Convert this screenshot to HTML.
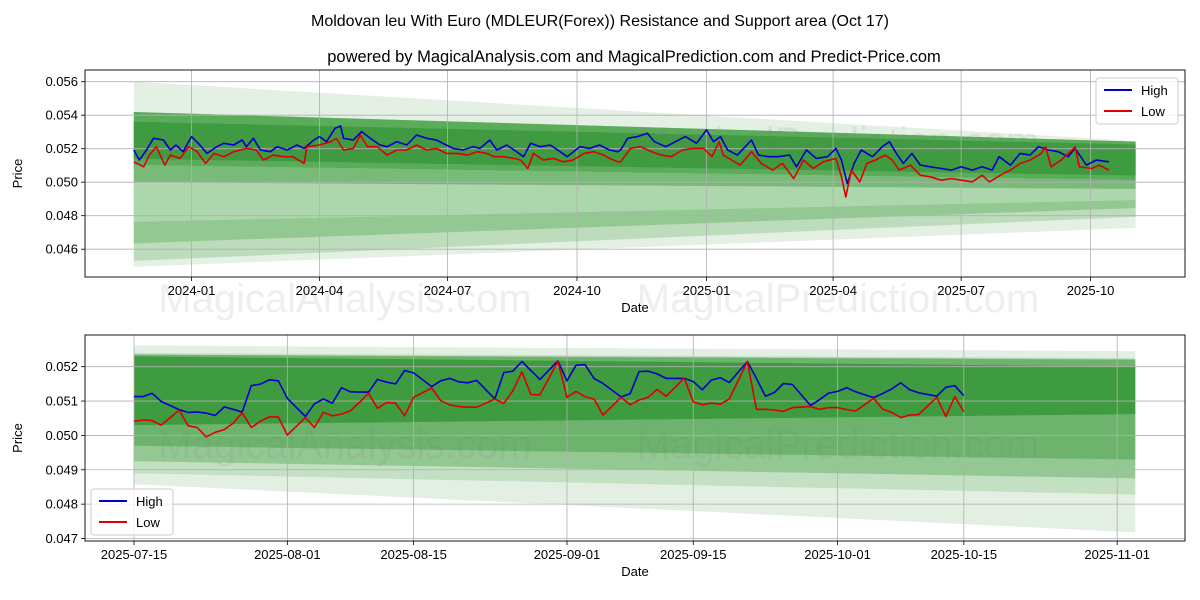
<!DOCTYPE html>
<html><head><meta charset="utf-8"><style>
body{margin:0;background:#fff;}
svg{display:block;font-family:"Liberation Sans",sans-serif;}
</style></head><body>
<svg id="c" width="1200" height="600" viewBox="0 0 1200 600"></svg>
<script>
// ---------- TOP CHART DATA (days since 2024-01-01) ----------
const topHighDays=[-41,-37,-32,-27,-20,-15,-11,-6,0,6,11,18,23,30,36,39,44,49,56,61,68,75,80,87,91,96,102,106,108,115,121,127,134,139,146,153,160,167,174,181,186,193,200,205,212,217,224,231,236,241,248,255,262,267,276,283,290,297,303,305,310,317,324,329,337,344,351,359,366,371,376,381,388,398,403,410,417,425,430,437,444,452,458,462,466,471,476,484,491,496,501,506,512,518,525,533,540,547,555,562,569,574,582,589,596,602,609,616,623,628,636,643,652];
const topHighVals=[0.05192,0.05132,0.05192,0.05262,0.05252,0.05192,0.05222,0.05182,0.05272,0.05222,0.05172,0.05212,0.05232,0.05222,0.05252,0.05212,0.05262,0.05192,0.05182,0.05212,0.05192,0.05222,0.05202,0.05252,0.05272,0.05242,0.05322,0.05336,0.05262,0.05252,0.05302,0.05262,0.05222,0.05212,0.05242,0.05222,0.05282,0.05262,0.05252,0.05222,0.05202,0.05192,0.05212,0.05202,0.05252,0.05192,0.05222,0.05182,0.05152,0.05232,0.05212,0.05222,0.05182,0.05152,0.05212,0.05202,0.05222,0.05192,0.05182,0.05192,0.05262,0.05272,0.05292,0.05242,0.05212,0.05242,0.05272,0.05232,0.05312,0.05242,0.05272,0.05192,0.05162,0.05252,0.05162,0.05152,0.05152,0.05162,0.05092,0.05192,0.05142,0.05152,0.05202,0.05132,0.04992,0.05112,0.05192,0.05152,0.05212,0.05242,0.05172,0.05112,0.05172,0.05102,0.05092,0.05082,0.05072,0.05092,0.05072,0.05092,0.05072,0.05152,0.05102,0.05172,0.05162,0.05212,0.05192,0.05182,0.05152,0.05202,0.05102,0.05132,0.05122];
const topLowDays=[-41,-34,-30,-25,-19,-15,-8,-2,4,10,16,23,30,35,39,46,51,58,65,72,80,82,91,99,103,108,115,120,125,132,139,146,153,160,167,174,181,189,196,203,210,215,222,229,234,239,243,250,257,264,271,279,286,293,297,303,305,312,319,327,334,341,349,356,364,370,375,378,386,390,398,405,413,420,428,435,442,449,458,462,465,469,475,480,486,493,498,503,511,518,525,533,540,547,555,562,567,577,582,589,596,604,607,611,618,626,628,631,640,645,652];
const topLowVals=[0.05122,0.05092,0.05162,0.05212,0.05102,0.05162,0.05142,0.05212,0.05182,0.05112,0.05172,0.05152,0.05182,0.05192,0.05202,0.05192,0.05132,0.05162,0.05152,0.05152,0.05112,0.05212,0.05222,0.05242,0.05262,0.05192,0.05202,0.05282,0.05212,0.05212,0.05162,0.05192,0.05192,0.05222,0.05192,0.05202,0.05172,0.05172,0.05162,0.05182,0.05172,0.05152,0.05152,0.05142,0.05132,0.05082,0.05172,0.05132,0.05142,0.05122,0.05132,0.05172,0.05182,0.05162,0.05142,0.05122,0.05122,0.05202,0.05212,0.05182,0.05162,0.05152,0.05192,0.05202,0.05202,0.05152,0.05242,0.05162,0.05122,0.05102,0.05182,0.05112,0.05072,0.05112,0.05022,0.05132,0.05082,0.05122,0.05142,0.05032,0.04912,0.05072,0.05002,0.05112,0.05132,0.05162,0.05132,0.05072,0.05102,0.05042,0.05032,0.05012,0.05022,0.05012,0.05002,0.05042,0.05002,0.05052,0.05072,0.05112,0.05132,0.05172,0.05212,0.05092,0.05132,0.05192,0.05212,0.05092,0.05082,0.05102,0.05072];
const topTickDays=[0,91,182,274,366,456,547,639];
const topTickLabels=["2024-01","2024-04","2024-07","2024-10","2025-01","2025-04","2025-07","2025-10"];
const topYTicks=[0.046,0.048,0.050,0.052,0.054,0.056];
// bands: startTop,endTop,startBottom,endBottom
const topBandA=[0.0560,0.05246,0.04495,0.04727];
const topBandB=[0.05419,0.05242,0.04530,0.04794];
const topBandC=[0.04764,0.04894,0.04635,0.04846];
const topBandD=[0.05103,0.05013,0.04764,0.04894];
const topBandE=[0.05103,0.05013,0.05000,0.04960];
const topBandF=[0.05419,0.05242,0.05103,0.05013];
const topBandG=[0.05361,0.05225,0.05140,0.05040];
const topBandDays=[-41,671];

// ---------- BOTTOM CHART DATA (days since 2025-07-15) ----------
const botDays=[0,1,2,3,4,5,6,7,8,9,10,11,12,13,14,15,16,17,19,20,21,22,23,24,25,26,27,28,29,30,31,33,34,35,36,37,38,40,41,42,43,44,45,47,48,49,50,51,52,54,55,56,57,58,59,60,61,62,63,64,65,66,68,69,70,71,72,73,75,76,77,78,79,80,82,83,84,85,86,87,89,90,91,92];
const botHigh=[0.05113,0.05113,0.05123,0.05099,0.05087,0.05075,0.05067,0.05068,0.05065,0.05058,0.05083,0.05076,0.05068,0.05145,0.05149,0.05162,0.05159,0.05108,0.05055,0.05092,0.05106,0.05094,0.05139,0.05127,0.05126,0.05126,0.05163,0.05155,0.05150,0.05189,0.05182,0.05142,0.05159,0.05166,0.05156,0.05153,0.05160,0.05106,0.05183,0.05187,0.05215,0.05189,0.05163,0.05217,0.05159,0.05204,0.05206,0.05166,0.05151,0.05112,0.05121,0.05186,0.05187,0.05179,0.05166,0.05166,0.05166,0.05157,0.05133,0.05161,0.05168,0.05154,0.05215,0.05166,0.05114,0.05125,0.05151,0.05148,0.05087,0.05104,0.05123,0.05128,0.05139,0.05127,0.05110,0.05122,0.05135,0.05153,0.05133,0.05124,0.05114,0.05140,0.05145,0.05116];
const botLow=[0.05041,0.05045,0.05043,0.05030,0.05051,0.05074,0.05028,0.05023,0.04996,0.05009,0.05017,0.05036,0.05066,0.05023,0.05041,0.05054,0.05054,0.05001,0.05052,0.05023,0.05067,0.05057,0.05062,0.05072,0.05096,0.05123,0.05079,0.05096,0.05094,0.05057,0.05111,0.05138,0.05101,0.05089,0.05084,0.05082,0.05082,0.05106,0.05093,0.05130,0.05185,0.05119,0.05118,0.05215,0.05111,0.05128,0.05113,0.05106,0.05059,0.05111,0.05089,0.05103,0.05111,0.05134,0.05114,0.05140,0.05167,0.05098,0.05089,0.05094,0.05091,0.05106,0.05215,0.05076,0.05076,0.05074,0.05070,0.05081,0.05084,0.05076,0.05081,0.05081,0.05075,0.05071,0.05108,0.05076,0.05067,0.05052,0.05059,0.05061,0.05111,0.05055,0.05113,0.05069];
const botTickDays=[0,17,31,48,62,78,92,109];
const botTickLabels=["2025-07-15","2025-08-01","2025-08-15","2025-09-01","2025-09-15","2025-10-01","2025-10-15","2025-11-01"];
const botYTicks=[0.047,0.048,0.049,0.050,0.051,0.052];
const botBandA=[0.05262,0.05245,0.04858,0.04718];
const botBandB=[0.05240,0.05225,0.04890,0.04828];
const botBandC=[0.05235,0.05222,0.04925,0.04875];
const botBandD=[0.05235,0.05220,0.04970,0.04930];
const botBandE=[0.05230,0.05200,0.05030,0.05062];
const botBandDays=[0,111];

const NS="http://www.w3.org/2000/svg";
const svg=document.getElementById('c');
function mk(tag,attrs,parent){const e=document.createElementNS(NS,tag);for(const k in attrs)e.setAttribute(k,attrs[k]);(parent||svg).appendChild(e);return e;}

function drawPanel(cfg){
  const g=mk('g',{});
  
  
  const X=cfg.x, Y=cfg.y;
  // bands
  cfg.bands.forEach((b,i)=>{
    const d0=cfg.bandDays[0], d1=cfg.bandDays[1];
    const p=mk('polygon',{points:`${X(d0)},${Y(b[0])} ${X(d1)},${Y(b[1])} ${X(d1)},${Y(b[3])} ${X(d0)},${Y(b[2])}`,fill:cfg.bandColors[i]},g);
    
    
  });
  // grid
  cfg.yTicks.forEach(v=>{
    const l=mk('line',{x1:cfg.l,x2:cfg.r,y1:Y(v),y2:Y(v),stroke:'#b0b0b0','stroke-width':0.8},g);
    
    
    mk('line',{x1:cfg.l-4,x2:cfg.l,y1:Y(v),y2:Y(v),stroke:'#000','stroke-width':0.8},g);
    const t=mk('text',{x:cfg.l-7,y:Y(v)+4.5,'text-anchor':'end','font-size':13,fill:'#000'},g);
    t.textContent=v.toFixed(3);
    
    
  });
  cfg.xTicks.forEach((d,i)=>{
    const l=mk('line',{x1:X(d),x2:X(d),y1:cfg.t,y2:cfg.b,stroke:'#b0b0b0','stroke-width':0.8},g);
    
    
    mk('line',{x1:X(d),x2:X(d),y1:cfg.b,y2:cfg.b+4,stroke:'#000','stroke-width':0.8},g);
    const t=mk('text',{x:X(d),y:cfg.b+18,'text-anchor':'middle','font-size':13,fill:'#000'},g);
    t.textContent=cfg.xLabels[i];
    
    
  });
  // watermarks
  cfg.marks.forEach(m=>{
    const t=mk('text',{x:m[1],y:m[2],'text-anchor':'middle','font-size':40,fill:'rgba(120,120,120,0.13)'},g);
    t.textContent=m[0];
    
    
  });
  // series
  cfg.series.forEach(s=>{
    const pts=s.days.map((d,i)=>X(d).toFixed(1)+','+Y(s.vals[i]).toFixed(1)).join(' ');
    const pl=mk('polyline',{points:pts,fill:'none',stroke:s.color,'stroke-width':1.6,'stroke-linejoin':'round'},g);
    
    
  });
  // frame
  const fr=mk('rect',{x:cfg.l,y:cfg.t,width:cfg.r-cfg.l,height:cfg.b-cfg.t,fill:'none',stroke:'#000','stroke-width':0.9},g);
  
  
  // axis titles
  const yl=mk('text',{x:0,y:0,transform:`translate(${cfg.l-63},${(cfg.t+cfg.b)/2}) rotate(-90)`,'text-anchor':'middle','font-size':13},g);
  yl.textContent='Price';
  
  
  const xl=mk('text',{x:(cfg.l+cfg.r)/2,y:cfg.b+35,'text-anchor':'middle','font-size':13},g);
  xl.textContent='Date';
  
  
  // legend
  const lg=mk('g',{},g);
  
  
  const [lx,ly]=cfg.legend;
  mk('rect',{x:lx,y:ly,width:82,height:46,rx:3,fill:'rgba(255,255,255,0.8)',stroke:'#ccc','stroke-width':1},lg);
  [['High','#0000cc'],['Low','#dd0000']].forEach((e,i)=>{
    const en=mk('g',{},lg);
    
    
    mk('line',{x1:lx+8,x2:lx+36,y1:ly+12+i*21,y2:ly+12+i*21,stroke:e[1],'stroke-width':2},en);
    const t=mk('text',{x:lx+45,y:ly+17+i*21,'font-size':13},en);
    t.textContent=e[0];
  });
}

const topX=d=>191.5+1.407*d, topY=v=>81.7+(0.056-v)*16750;
drawPanel({name:'top-chart',l:85,r:1185,t:70,b:277,x:topX,y:topY,
  bands:[topBandA,topBandB,topBandC,topBandD,topBandE,topBandF,topBandG],
  bandColors:['#e3f0e3','#bcdcbc','#93c893','#acd6ac','#78bb78','#5aab5a','#3f9b3f'],
  bandDays:topBandDays,yTicks:topYTicks,xTicks:topTickDays,xLabels:topTickLabels,
  marks:[['MagicalAnalysis.com',345,155],['MagicalPrediction.com',838,155]],
  series:[{name:'high-line-top',days:topHighDays,vals:topHighVals,color:'#0000cc'},{name:'low-line-top',days:topLowDays,vals:topLowVals,color:'#dd0000'}],
  legend:[1096,78]});

const botX=d=>134+9.02*d, botY=v=>366.7+(0.052-v)*34360;
drawPanel({name:'bottom-chart',l:85,r:1185,t:335,b:541,x:botX,y:botY,
  bands:[botBandA,botBandB,botBandC,botBandD,botBandE],
  bandColors:['#e2efe2','#c3e0c3','#93c893','#6db36d','#3f9b3f'],
  bandDays:botBandDays,yTicks:botYTicks,xTicks:botTickDays,xLabels:botTickLabels,
  marks:[['MagicalAnalysis.com',345,458],['MagicalPrediction.com',838,458]],
  series:[{name:'high-line-bottom',days:botDays,vals:botHigh,color:'#0000cc'},{name:'low-line-bottom',days:botDays,vals:botLow,color:'#dd0000'}],
  legend:[91,489]});

// big watermarks between panels
[['MagicalAnalysis.com',345,312],['MagicalPrediction.com',838,312]].forEach(m=>{
  const t=mk('text',{x:m[1],y:m[2],'text-anchor':'middle','font-size':40,fill:'rgba(120,120,120,0.13)'});
  t.textContent=m[0];
  
  
});
const t1=mk('text',{x:600,y:26,'text-anchor':'middle','font-size':16});
t1.textContent='Moldovan leu With Euro (MDLEUR(Forex)) Resistance and Support area (Oct 17)';


const t2=mk('text',{x:634,y:62,'text-anchor':'middle','font-size':16.5});
t2.textContent='powered by MagicalAnalysis.com and MagicalPrediction.com and Predict-Price.com';


</script>
</body></html>
